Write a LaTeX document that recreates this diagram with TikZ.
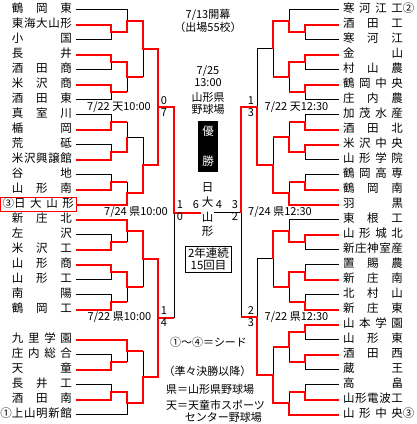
\documentclass[tikz,border=0pt]{standalone}
\usepackage{fontspec}
\setmainfont{Noto Sans CJK JP}
\newcommand{\tm}[1]{\makebox[60pt]{#1}}
\begin{document}
\begin{tikzpicture}[x=1pt, y=-1pt, font=\fontsize{11.5}{12}\selectfont,
  lname/.style={anchor=east, inner sep=0pt, outer xsep=4pt, text height=9pt, text depth=2.5pt},
  rname/.style={anchor=west, inner sep=0pt, outer xsep=4pt, text height=9pt, text depth=2.5pt},
  seed/.style={draw=red, line width=1pt, inner xsep=2pt, inner ysep=1.5pt, outer sep=0pt},
  win/.style={draw=red, line width=2pt},
  lose/.style={draw=black, line width=1pt},
  score/.style={inner sep=0pt, font=\fontsize{11}{12}\selectfont},
  when/.style={inner sep=0pt, font=\fontsize{11}{12}\selectfont},
  note/.style={inner sep=0pt, font=\fontsize{11}{12}\selectfont}]
  \useasboundingbox (0,0) rectangle (416,424);

  % left side teams
  \node[lname] (l0) at (76,9.5) {\tm{鶴\hfill 岡\hfill 東}};
  \node[lname] (l1) at (76,24.5) {\tm{東\hfill 海\hfill 大\hfill 山\hfill 形}};
  \node[lname] (l2) at (76,39.5) {\tm{小\hfill 国}};
  \node[lname] (l3) at (76,54.5) {\tm{長\hfill 井}};
  \node[lname] (l4) at (76,69.5) {\tm{酒\hfill 田\hfill 商}};
  \node[lname] (l5) at (76,84.5) {\tm{米\hfill 沢\hfill 商}};
  \node[lname] (l6) at (76,99.5) {\tm{酒\hfill 田\hfill 東}};
  \node[lname] (l7) at (76,114.5) {\tm{真\hfill 室\hfill 川}};
  \node[lname] (l8) at (76,129.5) {\tm{楯\hfill 岡}};
  \node[lname] (l9) at (76,144.5) {\tm{荒\hfill 砥}};
  \node[lname] (l10) at (76,159.5) {\tm{米\hfill 沢\hfill 興\hfill 譲\hfill 館}};
  \node[lname] (l11) at (76,174.5) {\tm{谷\hfill 地}};
  \node[lname] (l12) at (76,189.5) {\tm{山\hfill 形\hfill 南}};
  \node[lname, seed, anchor=east] (l13) at (76,204.5) {③\tm{日\hfill 大\hfill 山\hfill 形}};
  \node[lname] (l14) at (76,219.5) {\tm{新\hfill 庄\hfill 北}};
  \node[lname] (l15) at (76,234.5) {\tm{左\hfill 沢}};
  \node[lname] (l16) at (76,249.5) {\tm{米\hfill 沢\hfill 工}};
  \node[lname] (l17) at (76,264.5) {\tm{山\hfill 形\hfill 商}};
  \node[lname] (l18) at (76,279.5) {\tm{山\hfill 形\hfill 工}};
  \node[lname] (l19) at (76,294.5) {\tm{南\hfill 陽}};
  \node[lname] (l20) at (76,309.5) {\tm{鶴\hfill 岡\hfill 工}};
  \node[lname] (l22) at (76,339.5) {\tm{九\hfill 里\hfill 学\hfill 園}};
  \node[lname] (l23) at (76,354.5) {\tm{庄\hfill 内\hfill 総\hfill 合}};
  \node[lname] (l24) at (76,369.5) {\tm{天\hfill 童}};
  \node[lname] (l25) at (76,384.5) {\tm{長\hfill 井\hfill 工}};
  \node[lname] (l26) at (76,399.5) {\tm{酒\hfill 田\hfill 南}};
  \node[lname] (l27) at (76,414.5) {①\tm{上\hfill 山\hfill 明\hfill 新\hfill 館}};

  % right side teams
  \node[rname] (r0) at (339,9.5) {\tm{寒\hfill 河\hfill 江\hfill 工}②};
  \node[rname] (r1) at (339,24.5) {\tm{酒\hfill 田\hfill 工}};
  \node[rname] (r2) at (339,39.5) {\tm{寒\hfill 河\hfill 江}};
  \node[rname] (r3) at (339,54.5) {\tm{金\hfill 山}};
  \node[rname] (r4) at (339,69.5) {\tm{村\hfill 山\hfill 農}};
  \node[rname] (r5) at (339,84.5) {\tm{鶴\hfill 岡\hfill 中\hfill 央}};
  \node[rname] (r6) at (339,99.5) {\tm{庄\hfill 内\hfill 農}};
  \node[rname] (r7) at (339,114.5) {\tm{加\hfill 茂\hfill 水\hfill 産}};
  \node[rname] (r8) at (339,129.5) {\tm{酒\hfill 田\hfill 北}};
  \node[rname] (r9) at (339,144.5) {\tm{米\hfill 沢\hfill 中\hfill 央}};
  \node[rname] (r10) at (339,159.5) {\tm{山\hfill 形\hfill 学\hfill 院}};
  \node[rname] (r11) at (339,174.5) {\tm{鶴\hfill 岡\hfill 高\hfill 専}};
  \node[rname] (r12) at (339,189.5) {\tm{鶴\hfill 岡\hfill 南}};
  \node[rname] (r13) at (339,204.5) {\tm{羽\hfill 黒}};
  \node[rname] (r14) at (339,219.5) {\tm{東\hfill 根\hfill 工}};
  \node[rname] (r15) at (339,234.5) {\tm{山\hfill 形\hfill 城\hfill 北}};
  \node[rname] (r16) at (339,249.5) {\tm{新\hfill 庄\hfill 神\hfill 室\hfill 産}};
  \node[rname] (r17) at (339,264.5) {\tm{置\hfill 賜\hfill 農}};
  \node[rname] (r18) at (339,279.5) {\tm{新\hfill 庄\hfill 南}};
  \node[rname] (r19) at (339,294.5) {\tm{北\hfill 村\hfill 山}};
  \node[rname] (r20) at (339,309.5) {\tm{新\hfill 庄\hfill 東}};
  \node[rname] (r21) at (339,324.5) {\tm{山\hfill 本\hfill 学\hfill 園}};
  \node[rname] (r22) at (339,339.5) {\tm{山\hfill 形\hfill 東}};
  \node[rname] (r23) at (339,354.5) {\tm{酒\hfill 田\hfill 西}};
  \node[rname] (r24) at (339,369.5) {\tm{蔵\hfill 王}};
  \node[rname] (r25) at (339,384.5) {\tm{高\hfill 畠}};
  \node[rname] (r26) at (339,399.5) {\tm{山\hfill 形\hfill 電\hfill 波\hfill 工}};
  \node[rname] (r27) at (339,414.5) {\tm{山\hfill 形\hfill 中\hfill 央}③};

  % left match points
  \coordinate (a1) at (111,32);  \coordinate (a2) at (111,62);  \coordinate (a3) at (111,92);
  \coordinate (a4) at (127,20.75); \coordinate (a5) at (127,77); \coordinate (a6) at (143,48.875);
  \coordinate (b1) at (111,122); \coordinate (b2) at (111,152); \coordinate (b3) at (111,182);
  \coordinate (b4) at (127,137); \coordinate (b5) at (127,193.25); \coordinate (b6) at (143,165.125);
  \coordinate (c1) at (111,242); \coordinate (c2) at (111,272); \coordinate (c3) at (111,302);
  \coordinate (c4) at (127,230.75); \coordinate (c5) at (127,287); \coordinate (c6) at (143,258.875);
  \coordinate (d1) at (111,362); \coordinate (d2) at (111,392);
  \coordinate (d3) at (127,350.75); \coordinate (d4) at (127,403.25); \coordinate (d5) at (143,377);
  \coordinate (q1) at (158,107); \coordinate (q2) at (158,317.9); \coordinate (sf) at (174,212.5);

  % right match points
  \coordinate (ra1) at (305,32);  \coordinate (ra2) at (305,62);  \coordinate (ra3) at (305,92);
  \coordinate (ra4) at (289,20.75); \coordinate (ra5) at (289,77); \coordinate (ra6) at (273,48.875);
  \coordinate (rb1) at (305,122); \coordinate (rb2) at (305,152); \coordinate (rb3) at (305,182);
  \coordinate (rb4) at (289,137); \coordinate (rb5) at (289,193.25); \coordinate (rb6) at (273,165.125);
  \coordinate (rc1) at (305,242); \coordinate (rc2) at (305,272); \coordinate (rc3) at (305,302);
  \coordinate (rc4) at (289,230.75); \coordinate (rc5) at (289,287); \coordinate (rc6) at (273,258.875);
  \coordinate (rd1) at (305,332); \coordinate (rd2) at (305,362); \coordinate (rd3) at (305,392);
  \coordinate (rd4) at (289,347); \coordinate (rd5) at (289,403.25); \coordinate (rd6) at (273,375.125);
  \coordinate (rq1) at (257,107); \coordinate (rq2) at (257,317); \coordinate (rsf) at (241,212.5);

  % champion
  \node[inner xsep=1pt, inner ysep=0pt, align=center, font=\fontsize{11.5}{14.7}\selectfont] (champ) at (207.5,210) {日\\大\\山\\形};

  % black: lost games
  \draw[lose] (l0.east) -| (a4) (l2.east) -| (a1) (l4.east) -| (a2) (l6.east) -| (a3)
    (a3 -| a5) -- (a5) (a5 -| a6) -- (a6);
  \draw[lose] (l7.east) -| (b1) (l9.east) -| (b2) (l11.east) -| (b3)
    (b1 -| b4) -- (b4) (b3 -| b5) -- (b5) (b4) -| (b6);
  \draw[lose] (l15.east) -| (c1) (l18.east) -| (c2) (l19.east) -| (c3)
    (c1 -| c4) -- (c4) (c3 -| c5) -- (c5) (c5 -| c6) -- (c6);
  \draw[lose] (l23.east) -| (d1) (l25.east) -| (d2) (l27.east) -| (d4)
    (d1 -| d3) -- (d3) (d3 -| d5) -- (d5) (q2 -| sf) -- (sf);
  \draw[lose] (r0.west) -| (ra4) (r2.west) -| (ra1) (r4.west) -| (ra2) (r6.west) -| (ra3)
    (ra3 -| ra5) -- (ra5) (ra5 -| ra6) -- (ra6) (ra6) -| (rq1);
  \draw[lose] (r7.west) -| (rb1) (r10.west) -| (rb2) (r11.west) -| (rb3)
    (rb1 -| rb4) -- (rb4) (rb3 -| rb5) -- (rb5) (rb4 -| rb6) -- (rb6);
  \draw[lose] (r14.west) -| (rc4) (r16.west) -| (rc1) (r17.west) -| (rc2) (r19.west) -| (rc3)
    (rc3 -| rc5) -- (rc5) (rc5 -| rc6) -- (rc6) (rc6) -| (rq2);
  \draw[lose] (r22.west) -| (rd1) (r24.west) -| (rd2) (r25.west) -| (rd3)
    (rd2 -| rd4) -- (rd4) (rd3 -| rd5) -- (rd5) (rd4 -| rd6) -- (rd6)
    (rq2 -| rsf) -- (rsf) (rsf) -- (rsf -| champ.east);

  % red: winning runs
  \draw[win] (l1.east) -| (a1) -| (a4) -| (a6) -| (q1);
  \draw[win] (l3.east) -| (a2) -| (a5) -- (a5 -| a6);
  \draw[win] (l5.east) -| (a3) -- (a3 -| a5);
  \draw[win] (l8.east) -| (b1) -- (b1 -| b4);
  \draw[win] (l10.east) -| (b2) -| (b4);
  \draw[win] (l12.east) -| (b3) -- (b3 -| b5);
  \draw[win] (l13.east) -| (b5) -| (b6) -| (q1) -| (sf) -- (sf -| champ.west);
  \draw[win] (l14.east) -| (c4) -| (c6) -| (q2);
  \draw[win] (l16.east) -| (c1) -- (c1 -| c4);
  \draw[win] (l17.east) -| (c2) -| (c5) -- (c5 -| c6);
  \draw[win] (l20.east) -| (c3) -- (c3 -| c5);
  \draw[win] (l22.east) -| (d3) -- (d3 -| d5);
  \draw[win] (l24.east) -| (d1) -- (d1 -| d3);
  \draw[win] (l26.east) -| (d2) -| (d4) -| (d5) -| (q2) -- (q2 -| sf);
  \draw[win] (r1.west) -| (ra1) -| (ra4) -| (ra6);
  \draw[win] (r3.west) -| (ra2) -| (ra5) -- (ra5 -| ra6);
  \draw[win] (r5.west) -| (ra3) -- (ra3 -| ra5);
  \draw[win] (r8.west) -| (rb1) -- (rb1 -| rb4);
  \draw[win] (r9.west) -| (rb2) -| (rb4) -- (rb4 -| rb6);
  \draw[win] (r12.west) -| (rb3) -- (rb3 -| rb5);
  \draw[win] (r13.west) -| (rb5) -| (rb6) -| (rq1) -| (rsf);
  \draw[win] (r15.west) -| (rc1) -| (rc4) -| (rc6);
  \draw[win] (r18.west) -| (rc2) -| (rc5) -- (rc5 -| rc6);
  \draw[win] (r20.west) -| (rc3) -- (rc3 -| rc5);
  \draw[win] (r21.west) -| (rd1) -| (rd4) -- (rd4 -| rd6);
  \draw[win] (r23.west) -| (rd2) -- (rd2 -| rd4);
  \draw[win] (r26.west) -| (rd3) -- (rd3 -| rd5);
  \draw[win] (r27.west) -| (rd5) -| (rd6) -| (rq2) -- (rq2 -| rsf);

  % scores
  \node[score] (s1) at (164,101) {0};  \node[score] (s2) at (164,113) {7};
  \node[score] (s3) at (164,311) {1};  \node[score] (s4) at (164,323) {4};
  \node[score] (s5) at (180,205) {1};  \node[score] (s6) at (180,217) {0};
  \node[score] (s7) at (196,205) {6};  \node[score] (s8) at (219,205) {4};
  \node[score] (s9) at (235,205) {3};  \node[score] (s10) at (235,217) {2};
  \node[score] (s11) at (251,101) {1}; \node[score] (s12) at (251,113) {3};
  \node[score] (s13) at (251,311) {2}; \node[score] (s14) at (251,323) {3};

  % dates and grounds
  \node[when] (w1) at (119,107) {7/22 天10:00};
  \node[when] (w2) at (136,212) {7/24 県10:00};
  \node[when] (w3) at (119.5,317) {7/22 県10:00};
  \node[when] (w4) at (296.5,107) {7/22 天12:30};
  \node[when] (w5) at (280,212) {7/24 県12:30};
  \node[when] (w6) at (296.5,317) {7/22 県12:30};

  % centre
  \node[note, align=center, font=\fontsize{11}{13}\selectfont] (open) at (208,20.5) {7/13開幕\\（出場55校）};
  \node[note, align=center] (final) at (208,76) {7/25\\13:00};
  \node[note, align=center] (park) at (208,103.5) {山形県\\野球場};
  \node[fill=black, text=white, minimum width=20pt, minimum height=51pt, inner sep=0pt, align=center,
    font=\fontsize{11.5}{30}\selectfont] (title) at (208,146.5) {優\\勝};
  \node[draw, line width=1pt, inner xsep=3pt, inner ysep=1.5pt, align=center] (times) at (208.5,259.5) {2年連続\\15回目};
  \node[note] (seeds) at (208.5,342) {①～④＝シード};
  \node[note] (after) at (207.5,371) {（準々決勝以降）};
  \node[note, anchor=west] (ken) at (166,389) {県＝山形県野球場};
  \node[note, anchor=north west, align=left] (ten) at (166,400) {天＝天童市スポーツ\\\hspace*{1.7em}センター野球場};
\end{tikzpicture}
\end{document}
